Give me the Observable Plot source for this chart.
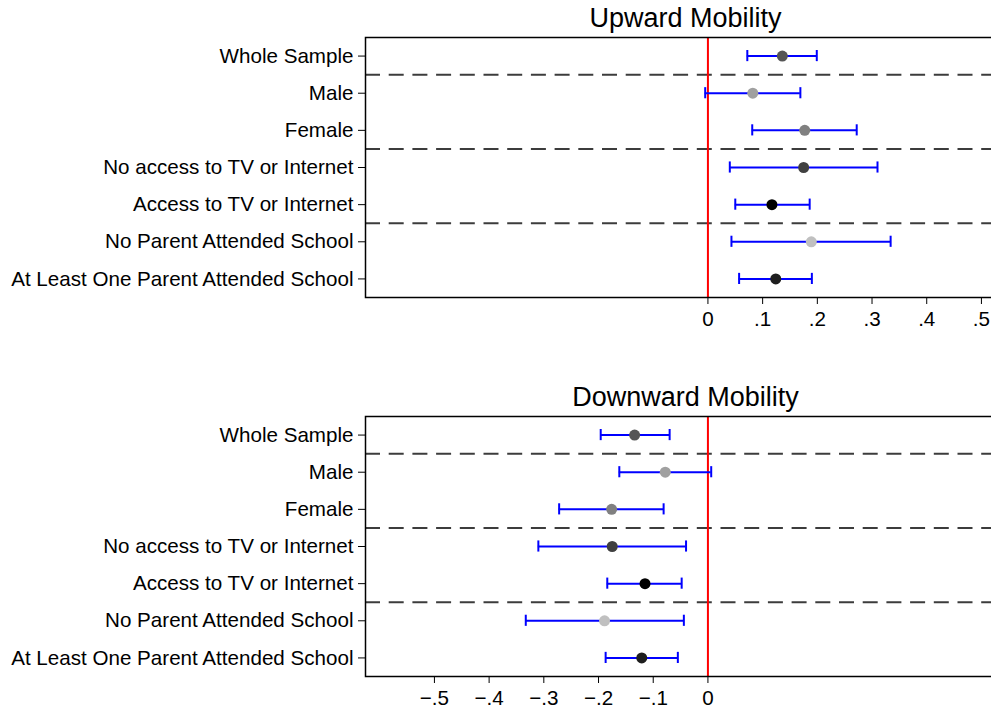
<!DOCTYPE html>
<html>
<head>
<meta charset="utf-8">
<script src="https://cdn.jsdelivr.net/npm/d3@7"></script>
<script src="https://cdn.jsdelivr.net/npm/@observablehq/plot@0.6"></script>
<style>
  html, body { margin: 0; padding: 0; background: #fff; }
  #wrap { position: relative; width: 991px; height: 711px; overflow: hidden; background: #fff; }
  .panel { position: absolute; left: 0; }
</style>
</head>
<body>
<div id="wrap">
  <div class="panel" id="up" style="top:0px"></div>
  <div class="panel" id="down" style="top:379px"></div>
</div>
<script>
const categories = [
  "Whole Sample",
  "Male",
  "Female",
  "No access to TV or Internet",
  "Access to TV or Internet",
  "No Parent Attended School",
  "At Least One Parent Attended School"
];
const pointColors = ["#555555", "#a0a0a0", "#808080", "#404040", "#000000", "#c0c0c0", "#1e1e1e"];

const upEstimate = [0.136, 0.082, 0.177, 0.175, 0.117, 0.189, 0.124];
const upLower    = [0.072, -0.005, 0.081, 0.040, 0.050, 0.043, 0.057];
const upUpper    = [0.199, 0.169, 0.272, 0.310, 0.186, 0.334, 0.190];

const downEstimate = [-0.134, -0.078, -0.176, -0.175, -0.115, -0.189, -0.121];
const downLower    = [-0.196, -0.162, -0.272, -0.310, -0.184, -0.333, -0.187];
const downUpper    = [-0.070, 0.006, -0.081, -0.040, -0.048, -0.044, -0.055];

const groupBreaks = [1.5, 3.5, 5.5];
const upTicks = [0, 0.1, 0.2, 0.3, 0.4, 0.5];
const downTicks = [-0.5, -0.4, -0.3, -0.2, -0.1, 0];

const fmt = d => d === 0 ? "0" : d3.format(".1f")(d).replace("0.", ".");

function panel(est, lo, hi, ticks, title) {
  const data = categories.map((c, i) => ({idx: i + 1, est: est[i], lo: lo[i], hi: hi[i], color: pointColors[i]}));
  return Plot.plot({
    width: 1010, height: 337,
    marginLeft: 365, marginRight: 5, marginTop: 37, marginBottom: 40,
    style: {fontFamily: "'Liberation Sans', Arial, Helvetica, sans-serif", fontSize: "20.6px", background: "#fff", maxWidth: "none", overflow: "visible", color: "#000"},
    x: {domain: [-0.626, 0.544], ticks: ticks, tickFormat: fmt, tickSize: 7, tickPadding: 7, label: null},
    y: {domain: [0.5, 7.5], reverse: true, ticks: categories.map((_, i) => i + 1), tickFormat: i => categories[i - 1], tickSize: 7, tickPadding: 5, label: null},
    marks: [
      Plot.ruleY(groupBreaks, {stroke: "#3c3c3c", strokeWidth: 2, strokeDasharray: "15,8.7"}),
      Plot.ruleX([0], {stroke: "#ff0000", strokeWidth: 2}),
      Plot.ruleY(data, {y: "idx", x1: "lo", x2: "hi", stroke: "#0000ff", strokeWidth: 2}),
      Plot.ruleX(data, {x: "lo", y1: d => d.idx - 0.15, y2: d => d.idx + 0.15, stroke: "#0000ff", strokeWidth: 2}),
      Plot.ruleX(data, {x: "hi", y1: d => d.idx - 0.15, y2: d => d.idx + 0.15, stroke: "#0000ff", strokeWidth: 2}),
      Plot.dot(data, {x: "est", y: "idx", r: 5.5, fill: "color", stroke: null}),
      Plot.frame({stroke: "#000", strokeWidth: 1.5}),
      Plot.text([title], {frameAnchor: "top", dy: -11, lineAnchor: "bottom", fontSize: 27, fill: "#000"})
    ]
  });
}

document.getElementById("up").appendChild(panel(upEstimate, upLower, upUpper, upTicks, "Upward Mobility"));
document.getElementById("down").appendChild(panel(downEstimate, downLower, downUpper, downTicks, "Downward Mobility"));
</script>
</body>
</html>
